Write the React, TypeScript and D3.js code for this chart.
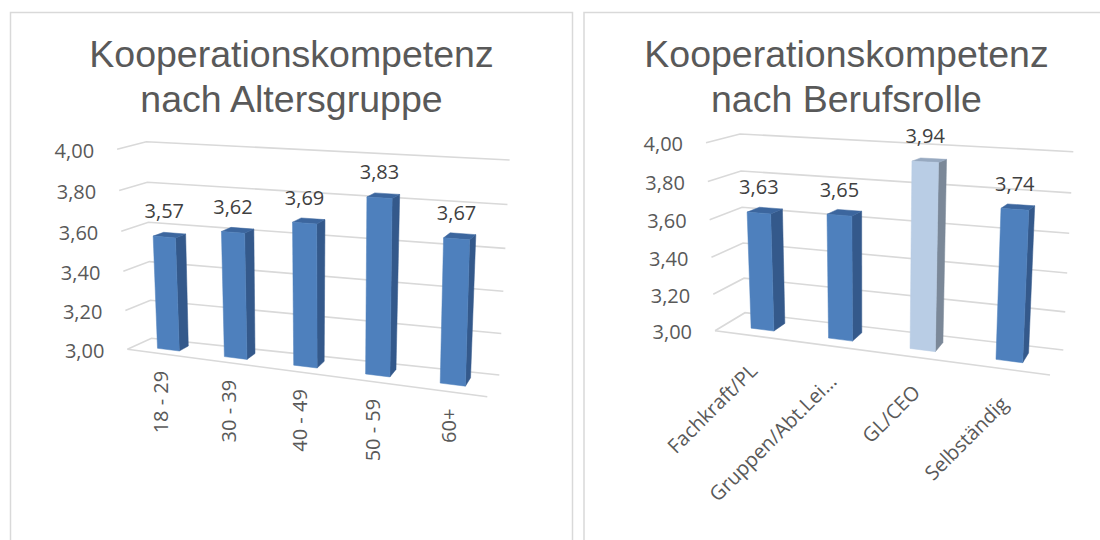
import React from 'react';
import * as d3 from 'd3';

// data
const ageGroups = ['18 - 29', '30 - 39', '40 - 49', '50 - 59', '60+'];
const ageValues = [3.57, 3.62, 3.69, 3.83, 3.67];
const roles = ['Fachkraft/PL', 'Gruppen/Abt.Lei…', 'GL/CEO', 'Selbständig'];
const roleValues = [3.63, 3.65, 3.94, 3.74];
const highlightedRole = 'GL/CEO';
const valueDomain = [3, 4];
const valueTicks = [3, 3.2, 3.4, 3.6, 3.8, 4];

const deFormat = d3.formatLocale({ decimal: ',', thousands: '.', grouping: [3], currency: ['', ' €'] }).format('.2f');

const TEXT = '#595959';
const GRID = '#d9d9d9';
const BLUE = { front: '#4e80bd', side: '#34598b', top: '#3c669e' };
const LIGHT = { front: '#b9cde5', side: '#7b8898', top: '#97a9c0' };

type Pt = [number, number];

// back wall = homography of unit square, depth = bilinear offset towards the viewer
function makeProjection(wall: { tl: Pt; tr: Pt; bl: Pt; br: Pt }, depth: { tl: Pt; tr: Pt; bl: Pt; br: Pt }) {
  const [x0, y0] = wall.bl, [x1, y1] = wall.br, [x2, y2] = wall.tr, [x3, y3] = wall.tl;
  const sx = x0 - x1 + x2 - x3, sy = y0 - y1 + y2 - y3;
  const dx1 = x1 - x2, dx2 = x3 - x2, dy1 = y1 - y2, dy2 = y3 - y2;
  const det = dx1 * dy2 - dx2 * dy1;
  const g = (sx * dy2 - dx2 * sy) / det;
  const h = (dx1 * sy - sx * dy1) / det;
  const a = x1 - x0 + g * x1, b = x3 - x0 + h * x3;
  const d = y1 - y0 + g * y1, e = y3 - y0 + h * y3;
  const lerp = (p: number, q: number, t: number) => p + (q - p) * t;
  return (u: number, v: number, z: number): Pt => {
    const w = g * u + h * v + 1;
    const bx = (a * u + b * v + x0) / w;
    const by = (d * u + e * v + y0) / w;
    const lx = lerp(depth.bl[0], depth.tl[0], v), ly = lerp(depth.bl[1], depth.tl[1], v);
    const rx = lerp(depth.br[0], depth.tr[0], v), ry = lerp(depth.br[1], depth.tr[1], v);
    return [bx + z * lerp(lx, rx, u), by + z * lerp(ly, ry, u)];
  };
}

const poly = (pts: Pt[]) => 'M' + pts.map(p => p[0].toFixed(2) + ',' + p[1].toFixed(2)).join('L') + 'Z';

function Chart3D(props: any) {
  const { panel, title, cats, vals, geom, highlight } = props;
  const x = d3.scaleBand<string>().domain(cats).range([0, 1]).paddingInner(geom.pad).paddingOuter(geom.pad / 2);
  const y = d3.scaleLinear().domain(valueDomain).range([0, 1]);
  const P = makeProjection(geom.wall, geom.depth);
  const [zb, zf] = geom.barZ;
  const cx = panel.x + panel.w / 2;

  return (
    <g>
      <rect x={panel.x} y={panel.y} width={panel.w} height={panel.h} fill="#fff" stroke={GRID} strokeWidth={1.5} />
      <text x={cx} y={67} textAnchor="middle" fontFamily="'Liberation Sans', Arial, sans-serif" fontSize={37.5} fill={TEXT}>
        {title[0]}
      </text>
      <text x={cx} y={112} textAnchor="middle" fontFamily="'Liberation Sans', Arial, sans-serif" fontSize={37.5} fill={TEXT}>
        {title[1]}
      </text>

      {/* gridlines on back and side wall */}
      <g stroke={GRID} strokeWidth={1.6} fill="none">
        {valueTicks.map(t => {
          const v = y(t);
          const a = P(0, v, 1), b = P(0, v, 0), c = P(1, v, 0);
          return <path key={t} d={`M${a[0]},${a[1]}L${b[0]},${b[1]}L${c[0]},${c[1]}`} />;
        })}
        {(() => {
          const a = P(0, 0, 1), b = P(1, 0, 1);
          return <path d={`M${a[0]},${a[1]}L${b[0]},${b[1]}`} />;
        })()}
      </g>

      {/* value axis labels */}
      <g fontFamily="'Open Sans', sans-serif" fontSize={20} fill={TEXT}>
        {valueTicks.map(t => {
          const p = P(0, y(t), 1);
          return (
            <text key={t} x={p[0] - 23} y={p[1] + 1} textAnchor="end" dominantBaseline="central">
              {deFormat(t)}
            </text>
          );
        })}
      </g>

      {/* bars */}
      {cats.map((c: string, i: number) => {
        const u0 = x(c)!, u1 = u0 + x.bandwidth();
        const v = y(vals[i]);
        const col = c === highlight ? LIGHT : BLUE;
        const side = poly([P(u1, 0, zf), P(u1, 0, zb), P(u1, v, zb), P(u1, v, zf)]);
        const top = poly([P(u0, v, zf), P(u1, v, zf), P(u1, v, zb), P(u0, v, zb)]);
        const front = poly([P(u0, 0, zf), P(u1, 0, zf), P(u1, v, zf), P(u0, v, zf)]);
        const lab = P((u0 + u1) / 2, v, zf);
        return (
          <g key={c}>
            <path d={side} fill={col.side} stroke={col.side} strokeWidth={0.5} strokeLinejoin="round" />
            <path d={top} fill={col.top} stroke={col.top} strokeWidth={0.5} strokeLinejoin="round" />
            <path d={front} fill={col.front} stroke={col.front} strokeWidth={0.5} strokeLinejoin="round" />
            <text x={lab[0]} y={lab[1] - 18.5} textAnchor="middle" fontFamily="'Open Sans', sans-serif" fontSize={20} fill="#404040">
              {deFormat(vals[i])}
            </text>
          </g>
        );
      })}

      {/* category labels */}
      <g fontFamily="'Open Sans', sans-serif" fontSize={20} fill={TEXT}>
        {cats.map((c: string) => {
          const p = P(x(c)! + x.bandwidth() / 2, 0, 1);
          const lx = p[0] + geom.catOffset[0], ly = p[1] + geom.catOffset[1];
          return (
            <text key={c} x={lx} y={ly} textAnchor="end" dominantBaseline="central" transform={`rotate(${geom.catRotate},${lx},${ly})`}>
              {c}
            </text>
          );
        })}
      </g>
    </g>
  );
}

const ageGeom = {
  wall: { tl: [146.3, 141.7] as Pt, tr: [509.6, 160] as Pt, bl: [151.5, 338.3] as Pt, br: [499.3, 375] as Pt },
  depth: { tl: [-29.2, 7.6] as Pt, tr: [-16, 9] as Pt, bl: [-24.1, 11] as Pt, br: [-12, 21.7] as Pt },
  barZ: [0.26, 0.66],
  pad: 0.67,
  catRotate: -90,
  catOffset: [0, 17],
};

const roleGeom = {
  wall: { tl: [740, 134] as Pt, tr: [1073.3, 151.7] as Pt, bl: [745, 312.7] as Pt, br: [1063.3, 350] as Pt },
  depth: { tl: [-34, 8.7] as Pt, tr: [-13, 6] as Pt, bl: [-30, 18] as Pt, br: [-13.3, 25] as Pt },
  barZ: [0.27, 0.67],
  pad: 0.7,
  catRotate: -45,
  catOffset: [0, 31],
};

export default function App() {
  return (
    <svg width={1100} height={540} style={{ position: 'absolute', left: 0, top: 0, background: '#fff' }}>
      <rect width={1100} height={540} fill="#fff" />
      <Chart3D
        panel={{ x: 10.5, y: 12.5, w: 562, h: 600 }}
        title={['Kooperationskompetenz', 'nach Altersgruppe']}
        cats={ageGroups}
        vals={ageValues}
        geom={ageGeom}
      />
      <Chart3D
        panel={{ x: 584, y: 12.5, w: 525, h: 600 }}
        title={['Kooperationskompetenz', 'nach Berufsrolle']}
        cats={roles}
        vals={roleValues}
        geom={roleGeom}
        highlight={highlightedRole}
      />
    </svg>
  );
}
